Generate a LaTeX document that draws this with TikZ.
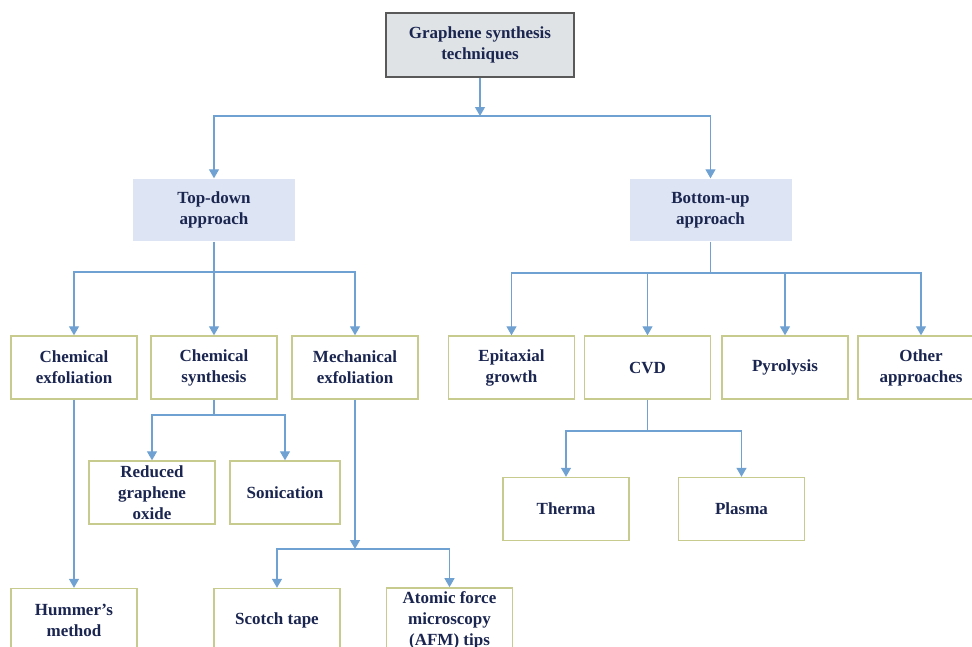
\documentclass[tikz,border=0pt]{standalone}
\usepackage{fontspec}
\setmainfont{Liberation Serif}
\usetikzlibrary{arrows.meta, positioning}
\definecolor{navytext}{HTML}{1B2650}
\definecolor{olivebox}{HTML}{C8CB8E}
\definecolor{greyfill}{HTML}{DFE3E6}
\definecolor{approachfill}{HTML}{DDE4F3}
\definecolor{linkblue}{HTML}{6FA1D2}
\tikzset{
    box/.style={draw=olivebox, line width=1.4pt, fill=white, minimum width=126pt, minimum height=63pt,
        align=center, text=navytext, font=\bfseries\fontsize{17}{21}\selectfont},
    rootbox/.style={box, draw=black!65, fill=greyfill, minimum width=188pt, minimum height=64pt},
    approachbox/.style={box, draw=none, fill=approachfill, minimum width=162pt, minimum height=62pt},
    link/.style={draw=linkblue, line width=1.3pt},
    arr/.style={link, -{Triangle[width=10pt,length=9pt]}}
}

\begin{document}
\begin{tikzpicture}[x=1pt, y=-1pt]
    \clip (0,0) rectangle (972,646);

    \node[rootbox] (root) at (480,45) {Graphene synthesis\\techniques};
    \node[approachbox] (td) at (214,210) {Top-down\\approach};
    \node[approachbox] (bu) at (710.5,210) {Bottom-up\\approach};

    \foreach \n / \x / \t in {ce/74/{Chemical\\exfoliation}, cs/214/{Chemical\\synthesis},
            me/355/{Mechanical\\exfoliation}, eg/511.5/{Epitaxial\\growth}, cvd/647.5/CVD,
            py/785/Pyrolysis, oa/921/{Other\\approaches}}
        \node[box] (\n) at (\x,367.5) {\t};

    \node[box] (rgo) at (152,492.5) {Reduced\\graphene\\oxide};
    \node[box, minimum width=110pt] (son) at (285,492.5) {Sonication};
    \node[box] (therma) at (566,509) {Therma};
    \node[box] (plasma) at (741.5,509) {Plasma};

    \foreach \n / \x / \t in {hm/74/{Hummer’s\\method}, st/277/{Scotch tape},
            afm/449.5/{Atomic force\\microscopy\\(AFM) tips}}
        \node[box] (\n) at (\x,620) {\t};

    % junctions
    \coordinate (j0) at (480,116);
    \coordinate (j1) at (214,272);
    \coordinate (j2) at (710.5,273);
    \coordinate (j3) at (214,415);
    \coordinate (j4) at (355,549);
    \coordinate (j5) at (647.5,431);

    \draw[arr] (root) -- (j0);
    \foreach \n in {td,bu}
        \draw[arr] (j0) -| (\n);

    \draw[link] (td) -- (j1);
    \foreach \n in {ce,cs,me}
        \draw[arr] (j1) -| (\n);

    \draw[link] (bu) -- (j2);
    \foreach \n in {eg,cvd,py,oa}
        \draw[arr] (j2) -| (\n);

    \draw[arr] (ce) -- (hm);

    \draw[link] (cs) -- (j3);
    \foreach \n in {rgo,son}
        \draw[arr] (j3) -| (\n);

    \draw[arr] (me) -- (j4);
    \foreach \n in {st,afm}
        \draw[arr] (j4) -| (\n);

    \draw[link] (cvd) -- (j5);
    \foreach \n in {therma,plasma}
        \draw[arr] (j5) -| (\n);
\end{tikzpicture}
\end{document}
